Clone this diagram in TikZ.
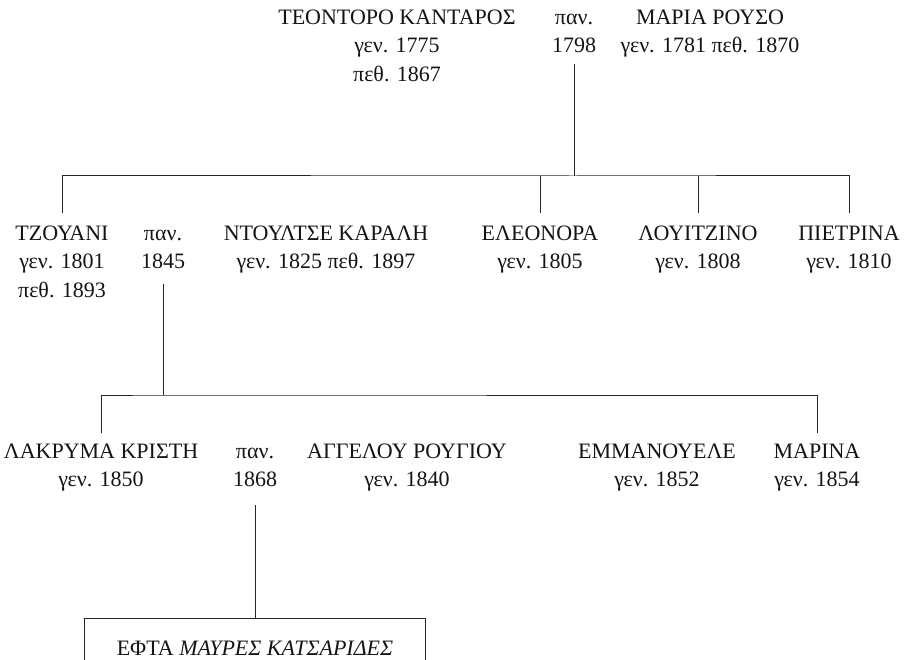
\documentclass[tikz,border=0pt]{standalone}
\usepackage{fontspec}
\setmainfont{Liberation Serif}
\usepackage{tikz}
\usetikzlibrary{positioning,calc}

\newcommand\famstrut{\rule{0pt}{18pt}}

\begin{document}
\begin{tikzpicture}[
    x=1pt, y=-1pt,
    font=\fontsize{22}{28.5}\selectfont,
    every node/.style={text=black!92},
    person/.style={align=center, inner sep=0pt, anchor=north},
    wed/.style={person},
    offspring/.style={rectangle, draw=black!85, line width=1pt, minimum width=341pt, minimum height=60pt, inner sep=0pt},
    line/.style={draw=black!85, line width=1pt}
]
\useasboundingbox (0,0) rectangle (908,660);

% First generation
\node [person] (teodoro) at (397,6) {\famstrut ΤΕΟΝΤΟΡΟ ΚΑΝΤΑΡΟΣ\\γεν. 1775\\πεθ. 1867};
\node [wed] (wed1) at (574,6) {\famstrut παν.\\1798};
\node [person] (maria) at (710,6) {\famstrut ΜΑΡΙΑ ΡΟΥΣΟ\\γεν. 1781 πεθ. 1870};

% Second generation
\node [person] (tzouani) at (62,222) {\famstrut ΤΖΟΥΑΝΙ\\γεν. 1801\\πεθ. 1893};
\node [wed] (wed2) at (163,222) {\famstrut παν.\\1845};
\node [person] (ntoulce) at (326,222) {\famstrut ΝΤΟΥΛΤΣΕ ΚΑΡΑΛΗ\\γεν. 1825 πεθ. 1897};
\node [person] (eleonora) at (540,222) {\famstrut ΕΛΕΟΝΟΡΑ\\γεν. 1805};
\node [person] (louitzino) at (698,222) {\famstrut ΛΟΥΙΤΖΙΝΟ\\γεν. 1808};
\node [person] (pietrina) at (849,222) {\famstrut ΠΙΕΤΡΙΝΑ\\γεν. 1810};

% Third generation
\node [person] (lakryma) at (101,440) {\famstrut ΛΑΚΡΥΜΑ ΚΡΙΣΤΗ\\γεν. 1850};
\node [wed] (wed3) at (255,440) {\famstrut παν.\\1868};
\node [person] (aggelou) at (407,440) {\famstrut ΑΓΓΕΛΟΥ ΡΟΥΓΙΟΥ\\γεν. 1840};
\node [person] (emmanouele) at (657,440) {\famstrut ΕΜΜΑΝΟΥΕΛΕ\\γεν. 1852};
\node [person] (marina) at (817,440) {\famstrut ΜΑΡΙΝΑ\\γεν. 1854};

% Fourth generation
\node [offspring, anchor=north] (efta) at (255,618) {ΕΦΤΑ \textit{ΜΑΥΡΕΣ ΚΑΤΣΑΡΙΔΕΣ}};

% Connections
\coordinate (bar1) at (wed1.center |- 0,176);
\coordinate (bar2) at (wed2.center |- 0,395);
\path [line] ([yshift=-11pt]wed1.south) -- (bar1);
\path [line] ([yshift=9pt]tzouani.north) |- (bar1) -| ([yshift=9pt]pietrina.north);
\foreach \kid in {eleonora,louitzino}
  \path [line] ([yshift=9pt]\kid.north) -- (\kid.north |- bar1);
\path [line] ([yshift=-15pt]wed2.south) -- (bar2);
\path [line] ([yshift=7pt]lakryma.north) |- (bar2) -| ([yshift=7pt]marina.north);
\path [line] ([yshift=-18pt]wed3.south) -- (efta.north);

\end{tikzpicture}
\end{document}
